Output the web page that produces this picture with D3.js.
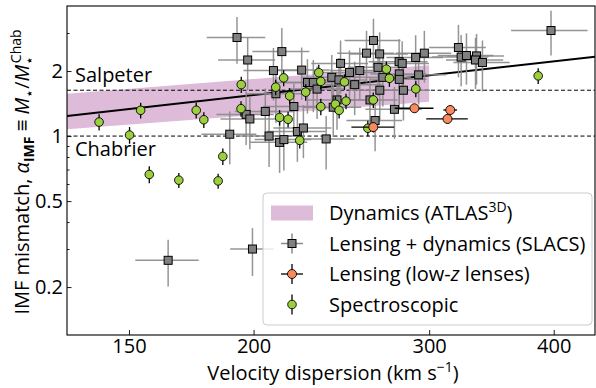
<!DOCTYPE html>
<html><head><meta charset="utf-8">
<script src="https://cdn.jsdelivr.net/npm/d3@7"></script>
<style>
body{margin:0;background:#fff;}
svg{display:block;font-family:"Open Sans",sans-serif;}
</style></head>
<body><svg id="c" width="596" height="388"></svg>
<script>
// ---- data ----
const xTicks = [150, 200, 300, 400];
const yTicks = [0.2, 0.5, 1, 2];
const yMinorTicks = [0.3, 0.4, 0.6, 0.7, 0.8, 0.9, 3];

const bandSigma = [130, 300];
const bandLow = [1.075, 1.44];
const bandHigh = [1.57, 2.13];

const fitSigma = [130, 440];
const fitAlpha = [1.238, 2.33];

const salpeter = 1.63;
const chabrier = 1.0;

const slacsSigma = [192.5,197.3,213.5,209.4,223.5,226.5,229.6,231.6,239.6,243.6,244.5,249.6,252.6,255.6,259.6,263.8,267.6,266.6,269.6,267.7,279.9,281.9,280.0,280.0,282.7,290.8,296.7,292.8,210.6,219.5,205.5,196.6,198.3,189.3,207.3,212.4,214.5,221.3,224.4,236.5,240.4,242.5,261.7,264.8,276.9,321.0,323.0,327.0,334.7,333.9,339.3,397.5,164.2,199.5];
const slacsAlpha = [2.86,2.25,2.46,2.01,2.02,1.77,1.77,1.65,1.87,1.82,2.17,1.97,1.73,2.01,2.42,2.77,2.40,2.08,1.87,1.63,2.21,2.17,1.94,1.83,1.63,2.31,2.42,1.92,1.57,1.37,1.30,1.26,1.20,1.02,1.00,0.935,0.963,1.05,1.09,0.97,1.36,1.47,1.47,1.18,1.33,2.57,2.32,2.36,2.35,2.25,2.19,3.08,0.266,0.300];
const slacsSigmaErr = [13,13,14,14,15,16,15,15,16,16,16,16,17,17,17,17,18,18,18,17,19,18,18,18,18,19,19,19,14,15,14,13,13,12,14,14,14,15,15,16,16,16,17,17,18,21,21,21,22,22,22,35,12,10];
const slacsAlphaErr = [0.70,0.62,0.70,0.55,0.55,0.50,0.48,0.45,0.50,0.48,0.60,0.52,0.48,0.55,0.65,0.72,0.62,0.55,0.50,0.45,0.60,0.58,0.52,0.50,0.45,0.62,0.65,0.52,0.42,0.38,0.36,0.35,0.33,0.28,0.28,0.26,0.27,0.29,0.30,0.27,0.37,0.40,0.40,0.33,0.36,0.70,0.62,0.63,0.62,0.60,0.58,0.72,0.065,0.075];

const lowzSigma = [263.7, 290.0, 313.0, 315.0];
const lowzAlpha = [1.10, 1.345, 1.20, 1.32];
const lowzSigmaErr = [13, 13, 15, 5];
const lowzAlphaErr = [0.06, 0.06, 0.06, 0.07];

const specSigma = [140.0,150.2,154.1,157.2,168.3,175.2,178.3,184.3,186.3,194.4,194.3,210.5,214.4,217.4,212.4,216.6,222.5,225.6,232.5,233.6,233.6,241.6,243.7,246.7,247.6,260.4,263.7,271.8,273.7,290.9,385.9];
const specAlpha = [1.161,1.011,1.316,0.664,0.625,1.316,1.190,0.620,0.805,1.731,1.339,1.684,1.859,1.534,1.219,1.196,0.955,1.597,1.966,1.791,1.368,1.405,1.316,1.781,1.451,1.087,1.470,2.041,1.850,1.653,1.900];
const specAlphaErr = [0.10,0.09,0.11,0.06,0.05,0.11,0.10,0.05,0.07,0.15,0.11,0.14,0.16,0.13,0.10,0.10,0.08,0.14,0.17,0.15,0.12,0.12,0.11,0.15,0.12,0.09,0.12,0.17,0.16,0.14,0.16];

const legendLabels = ["Dynamics (ATLAS", "Lensing + dynamics (SLACS)", "Lensing (low-", "Spectroscopic"];

// ---- layout ----
const FS = 20, FSS = 14;
const L = 67, R = 595, T = 6, B = 335;
const svg = d3.select("#c");
const x = d3.scaleLog().domain([130, 440]).range([L, R]);
const y = d3.scaleLog().domain([0.12, 4]).range([B, T]);

const COL_BAND = "#ddbbd9", COL_GRAY = "#808080", COL_ERR = "#8a8a8a";
const COL_GREEN = "#9ccf3c", COL_ORANGE = "#fa8a5e";

svg.append("defs").append("clipPath").attr("id","clip")
  .append("rect").attr("x",L).attr("y",T).attr("width",R-L).attr("height",B-T);
const g = svg.append("g").attr("clip-path","url(#clip)");

// band
const bandData = bandSigma.map((s,i)=>({s, lo:bandLow[i], hi:bandHigh[i]}));
g.append("path").datum(bandData)
  .attr("d", d3.area().x(d=>x(d.s)).y0(d=>y(d.lo)).y1(d=>y(d.hi)))
  .attr("fill", COL_BAND);

// reference lines
[salpeter, chabrier].forEach(v=>{
  g.append("line").attr("x1",L).attr("x2",R).attr("y1",y(v)).attr("y2",y(v))
   .attr("stroke","#000").attr("stroke-width",1).attr("stroke-dasharray","4,2.5");
});

// fit line
g.append("path").datum(fitSigma.map((s,i)=>[s,fitAlpha[i]]))
  .attr("d", d3.line().x(d=>x(d[0])).y(d=>y(d[1])))
  .attr("fill","none").attr("stroke","#000").attr("stroke-width",2);

// SLACS
const slacs = slacsSigma.map((s,i)=>({s, a:slacsAlpha[i], es:slacsSigmaErr[i], ea:slacsAlphaErr[i]}));
const se = g.append("g").attr("stroke",COL_ERR).attr("stroke-width",1.5).attr("stroke-opacity",0.9);
slacs.forEach(d=>{
  se.append("line").attr("x1",x(d.s-d.es)).attr("x2",x(d.s+d.es)).attr("y1",y(d.a)).attr("y2",y(d.a));
  se.append("line").attr("x1",x(d.s)).attr("x2",x(d.s)).attr("y1",y(Math.max(d.a-d.ea,0.01))).attr("y2",y(d.a+d.ea));
});
g.append("g").selectAll("rect").data(slacs).join("rect")
  .attr("x",d=>x(d.s)-4).attr("y",d=>y(d.a)-4).attr("width",8).attr("height",8)
  .attr("fill",COL_GRAY).attr("stroke","#000").attr("stroke-width",1);

// Spectroscopic
const spec = specSigma.map((s,i)=>({s, a:specAlpha[i], ea:specAlphaErr[i]}));
const ge = g.append("g").attr("stroke","#000").attr("stroke-width",1.3);
spec.forEach(d=>{
  ge.append("line").attr("x1",x(d.s)).attr("x2",x(d.s)).attr("y1",y(d.a-d.ea)).attr("y2",y(d.a+d.ea));
});
g.append("g").selectAll("circle").data(spec).join("circle")
  .attr("cx",d=>x(d.s)).attr("cy",d=>y(d.a)).attr("r",4.3)
  .attr("fill",COL_GREEN).attr("stroke","#000").attr("stroke-width",0.9);

// low-z lenses
const lowz = lowzSigma.map((s,i)=>({s, a:lowzAlpha[i], es:lowzSigmaErr[i], ea:lowzAlphaErr[i]}));
const oe = g.append("g").attr("stroke","#000").attr("stroke-width",1.3);
lowz.forEach(d=>{
  oe.append("line").attr("x1",x(d.s-d.es)).attr("x2",x(d.s+d.es)).attr("y1",y(d.a)).attr("y2",y(d.a));
  oe.append("line").attr("x1",x(d.s)).attr("x2",x(d.s)).attr("y1",y(d.a-d.ea)).attr("y2",y(d.a+d.ea));
});
g.append("g").selectAll("circle").data(lowz).join("circle")
  .attr("cx",d=>x(d.s)).attr("cy",d=>y(d.a)).attr("r",4.5)
  .attr("fill",COL_ORANGE).attr("stroke","#000").attr("stroke-width",0.9);

// labels on lines
svg.append("text").attr("x",75).attr("y",82).attr("font-size",FS).text("Salpeter");
svg.append("text").attr("x",75).attr("y",155.5).attr("font-size",FS).text("Chabrier");

// axes
const xa = svg.append("g").attr("transform",`translate(0,${B})`)
  .call(d3.axisBottom(x).tickValues(xTicks).tickFormat(d3.format("d")).tickSizeInner(-5).tickSizeOuter(0).tickPadding(4));
const ya = svg.append("g").attr("transform",`translate(${L},0)`)
  .call(d3.axisLeft(y).tickValues(yTicks).tickFormat(d=>String(d)).tickSizeInner(-4.5).tickSizeOuter(0).tickPadding(4));
const ym = svg.append("g").attr("transform",`translate(${L},0)`)
  .call(d3.axisLeft(y).tickValues(yMinorTicks).tickFormat("").tickSizeInner(-2.5).tickSizeOuter(0));
ym.select(".domain").remove();
[xa,ya].forEach(a=>{
  a.selectAll("text").attr("font-size",FS).attr("font-family","Open Sans").attr("fill","#000");
  a.selectAll(".domain").remove();
});
svg.selectAll(".tick line").attr("stroke","#000").attr("stroke-width",0.9);

// frame
svg.append("rect").attr("x",L).attr("y",T).attr("width",R-L).attr("height",B-T)
  .attr("fill","none").attr("stroke","#000").attr("stroke-width",1.1);

// axis labels
const xl = svg.append("text").attr("x",333).attr("y",380).attr("text-anchor","middle").attr("font-size",FS);
xl.append("tspan").text("Velocity dispersion (km s");
xl.append("tspan").attr("dy",-8).attr("font-size",FSS).text("\u22121");
xl.append("tspan").attr("dy",8).text(")");

const yl = svg.append("text").attr("transform","translate(29,172) rotate(-90)")
  .attr("text-anchor","middle").attr("font-size",FS);
yl.append("tspan").text("IMF mismatch, ");
yl.append("tspan").attr("font-style","italic").text("\u03b1");
yl.append("tspan").attr("dy",4.5).attr("font-size",FSS).attr("font-weight","bold").text("IMF");
yl.append("tspan").attr("dy",-4.5).text(" \u2261 ");
yl.append("tspan").attr("font-style","italic").text("M");
yl.append("tspan").attr("dy",4.5).attr("font-size",FSS).text("\u22c6");
yl.append("tspan").attr("dy",-4.5).text("/");
yl.append("tspan").attr("font-style","italic").text("M");
yl.append("tspan").attr("dy",4.5).attr("font-size",FSS).text("\u22c6");
yl.append("tspan").attr("dy",-13).attr("dx",-7.5).attr("font-size",FSS).text("Chab");

// legend
const lg = svg.append("g");
lg.append("rect").attr("x",263).attr("y",193).attr("width",329).attr("height",132).attr("rx",4)
  .attr("fill","#fff").attr("fill-opacity",0.8).attr("stroke","#cccccc").attr("stroke-width",1);
const rows = [213, 243.5, 274, 304.5];
const mx = 292, tx = 329;
lg.append("rect").attr("x",271).attr("y",rows[0]-7.5).attr("width",42).attr("height",15).attr("fill",COL_BAND);
// SLACS symbol
lg.append("line").attr("x1",mx-11).attr("x2",mx+11).attr("y1",rows[1]).attr("y2",rows[1]).attr("stroke",COL_ERR).attr("stroke-width",1.5);
lg.append("line").attr("x1",mx).attr("x2",mx).attr("y1",rows[1]-10).attr("y2",rows[1]+10).attr("stroke",COL_ERR).attr("stroke-width",1.5);
lg.append("rect").attr("x",mx-4).attr("y",rows[1]-4).attr("width",8).attr("height",8).attr("fill",COL_GRAY).attr("stroke","#000");
// low-z symbol
lg.append("line").attr("x1",mx-11).attr("x2",mx+11).attr("y1",rows[2]).attr("y2",rows[2]).attr("stroke","#000").attr("stroke-width",1.3);
lg.append("line").attr("x1",mx).attr("x2",mx).attr("y1",rows[2]-10).attr("y2",rows[2]+10).attr("stroke","#000").attr("stroke-width",1.3);
lg.append("circle").attr("cx",mx).attr("cy",rows[2]).attr("r",4.5).attr("fill",COL_ORANGE).attr("stroke","#000").attr("stroke-width",0.9);
// spec symbol
lg.append("line").attr("x1",mx).attr("x2",mx).attr("y1",rows[3]-10).attr("y2",rows[3]+10).attr("stroke","#000").attr("stroke-width",1.3);
lg.append("circle").attr("cx",mx).attr("cy",rows[3]).attr("r",4.3).attr("fill",COL_GREEN).attr("stroke","#000").attr("stroke-width",0.9);

const ty = 7;
const t0 = lg.append("text").attr("x",tx).attr("y",rows[0]+ty).attr("font-size",FS);
t0.append("tspan").text(legendLabels[0]);
t0.append("tspan").attr("dy",-8).attr("font-size",FSS).text("3D");
t0.append("tspan").attr("dy",8).text(")");
lg.append("text").attr("x",tx).attr("y",rows[1]+ty).attr("font-size",FS).text(legendLabels[1]);
const t2 = lg.append("text").attr("x",tx).attr("y",rows[2]+ty).attr("font-size",FS);
t2.append("tspan").text(legendLabels[2]);
t2.append("tspan").attr("font-style","italic").text("z");
t2.append("tspan").text(" lenses)");
lg.append("text").attr("x",tx).attr("y",rows[3]+ty).attr("font-size",FS).text(legendLabels[3]);
</script></body></html>
